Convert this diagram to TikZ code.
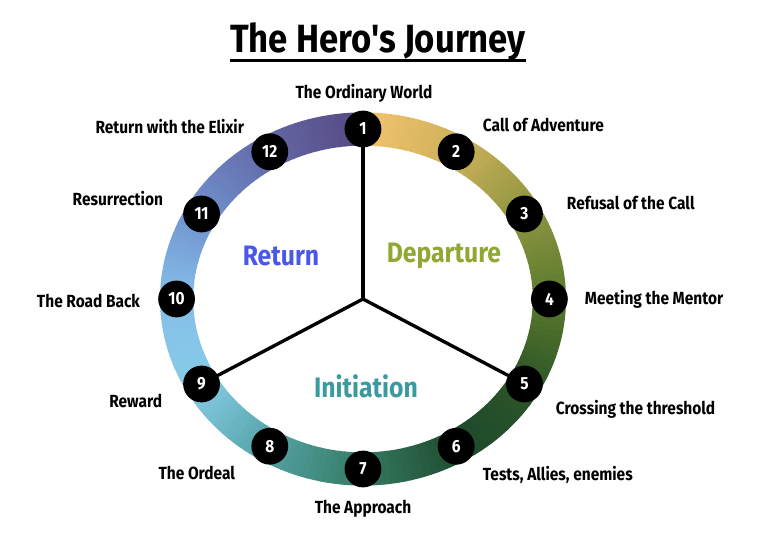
\documentclass[tikz,border=0pt]{standalone}
\usepackage{fontspec}
\setmainfont{Fira Sans}[FakeStretch=0.88, Ligatures=TeXOff]

\definecolor{c1}{HTML}{F5C46E}
\definecolor{c2}{HTML}{CDB05A}
\definecolor{c3}{HTML}{8E9540}
\definecolor{c4}{HTML}{5A7A2E}
\definecolor{c5}{HTML}{2C5426}
\definecolor{c6}{HTML}{1E4A2E}
\definecolor{c7}{HTML}{357A62}
\definecolor{c8}{HTML}{54A2A6}
\definecolor{c9}{HTML}{86CCE6}
\definecolor{c10}{HTML}{86BEEA}
\definecolor{c11}{HTML}{7092CE}
\definecolor{c12}{HTML}{6468A8}
\definecolor{c13}{HTML}{564880}
\definecolor{returnblue}{HTML}{4B57E8}
\definecolor{departgreen}{HTML}{8EA832}
\definecolor{initteal}{HTML}{3A9A9E}

\begin{document}
\begin{tikzpicture}[every node/.style={font=\bfseries\fontsize{12.5}{14}\selectfont},
  ring/.style={line width=0.83cm},
  num/.style={circle, fill=black, text=white, minimum size=0.92cm, inner sep=0pt},
  spoke/.style={line width=2.4pt, line cap=round},
  phase/.style={font=\bfseries\fontsize{20}{23}\selectfont}]
\useasboundingbox (-9.075,-5.95) rectangle (10.375,7.475);

\foreach \k in {1,...,12}{
  \pgfmathtruncatemacro\kk{\k+1}
  \foreach \s in {0,...,14}{
    \pgfmathsetmacro\a{90-30*(\k-1)-2*\s}
    \pgfmathtruncatemacro\p{100-(100*\s+50)/15}
    \draw[ring, color=c\k!\p!c\kk] (\a:4.66 and 4.25) arc[start angle=\a, end angle=\a-2.3, x radius=4.66, y radius=4.25];
  }
}

\coordinate (hub) at (0,0);
\foreach \k in {1,...,12}
  \node[num] (s\k) at ({90-30*(\k-1)}:4.66 and 4.25) {\k};

\draw[spoke] (hub) -- (s1);
\draw[spoke] (hub) -- (s5);
\draw[spoke] (hub) -- (s9);

\node[font=\bfseries\fontsize{28}{32}\selectfont, anchor=base, inner xsep=0pt] (title) at (0.375,6.15) {The Hero's Journey};
\draw[line width=2.2pt] ([yshift=-5.5pt]title.base west) -- ([yshift=-5.5pt]title.base east);

\node (l1) at (0.025,5.15) {The Ordinary World};
\node[anchor=west] (l2) at (2.875,4.35) {Call of Adventure};
\node[anchor=west] (l3) at (4.975,2.4) {Refusal of the Call};
\node[anchor=west] (l4) at (5.425,0) {Meeting the Mentor};
\node[anchor=west] (l5) at (4.7,-2.75) {Crossing the threshold};
\node[anchor=west] (l6) at (2.875,-4.4) {Tests, Allies, enemies};
\node (l7) at (0,-5.25) {The Approach};
\node[anchor=east] (l8) at (-3.075,-4.35) {The Ordeal};
\node[anchor=east] (l9) at (-4.9,-2.55) {Reward};
\node[anchor=east] (l10) at (-5.45,-0.05) {The Road Back};
\node[anchor=east] (l11) at (-4.875,2.5) {Resurrection};
\node[anchor=east] (l12) at (-2.85,4.3) {Return with the Elixir};

\node[phase, text=returnblue] (ret) at (-2.05,1.075) {Return};
\node[phase, text=departgreen] (dep) at (2.025,1.075) {Departure};
\node[phase, text=initteal] (ini) at (0.075,-2.175) {Initiation};
\end{tikzpicture}
\end{document}
